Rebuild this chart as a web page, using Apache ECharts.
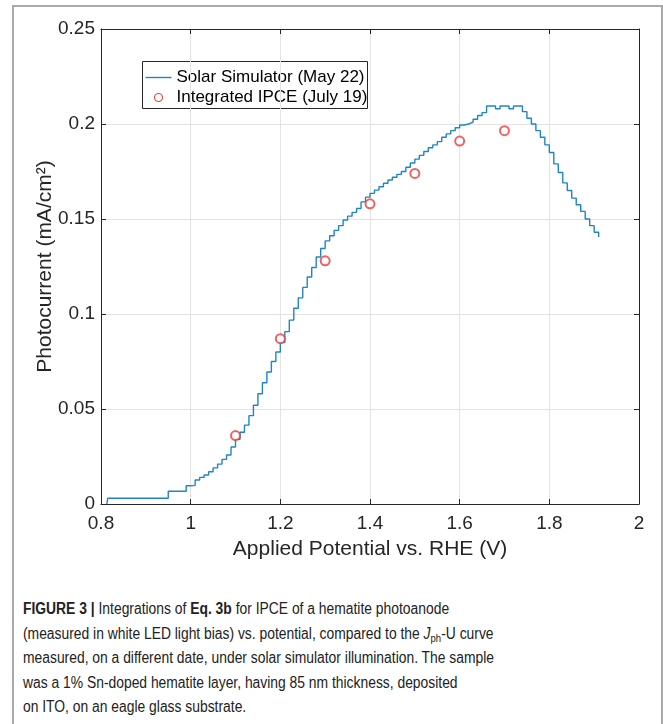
<!DOCTYPE html>
<html>
<head>
<meta charset="utf-8">
<script src="https://cdn.jsdelivr.net/npm/echarts@6/dist/echarts.min.js"></script>
<style>
html,body{margin:0;padding:0;background:#fff;width:663px;height:724px;overflow:hidden;}
#frame{position:absolute;left:12px;top:5px;width:647px;height:760px;border:2px solid #a9a9a9;border-bottom:none;}
#chart{position:absolute;left:0;top:0;width:663px;height:580px;}
#caption{position:absolute;left:23px;top:597px;width:700px;font-family:"Liberation Sans",Arial,sans-serif;font-size:16px;line-height:24.6px;color:#222;transform-origin:0 0;white-space:nowrap;}
#caption b{font-weight:bold;}
#caption sub{font-size:11px;vertical-align:-3px;line-height:0;}
</style>
</head>
<body>
<div id="frame"></div>
<div id="chart"></div>
<div id="caption"><b>FIGURE 3 |</b> Integrations of <b>Eq. 3b</b> for IPCE of a hematite photoanode<br>(measured in white LED light bias) vs. potential, compared to the <i>J</i><sub>ph</sub>-U curve<br><span id="l3">measured, on a different date, under solar simulator illumination. The sample</span><br>was a 1% Sn-doped hematite layer, having 85 nm thickness, deposited<br>on ITO, on an eagle glass substrate.</div>
<script>
// Solar simulator J-U curve (V vs RHE, mA/cm2)
const simV = [0.813,0.815,0.95,0.99,1.00,1.01,1.02,1.03,1.04,1.05,1.06,1.07,1.08,1.09,1.10,1.11,1.12,1.13,1.14,1.15,1.16,1.17,1.18,1.19,1.20,1.21,1.22,1.23,1.24,1.25,1.26,1.27,1.28,1.29,1.30,1.31,1.32,1.33,1.34,1.35,1.36,1.37,1.38,1.39,1.40,1.41,1.42,1.43,1.44,1.45,1.46,1.47,1.48,1.49,1.50,1.51,1.52,1.53,1.54,1.55,1.56,1.57,1.58,1.59,1.60,1.61,1.62,1.63,1.64,1.65,1.66,1.67,1.68,1.69,1.70,1.71,1.72,1.73,1.74,1.75,1.76,1.77,1.78,1.79,1.80,1.81,1.82,1.83,1.84,1.85,1.86,1.87,1.88,1.89,1.90,1.91];
const simJ = [0.000,0.0030,0.0067,0.0096,0.0098,0.0126,0.0140,0.0153,0.0170,0.0190,0.0210,0.0235,0.0258,0.0300,0.0340,0.0378,0.0415,0.0465,0.0520,0.0580,0.0638,0.0695,0.0750,0.0800,0.0850,0.0907,0.0968,0.1030,0.1085,0.1140,0.1195,0.1245,0.1300,0.1345,0.1385,0.1412,0.1440,0.1465,0.1495,0.1515,0.1535,0.1555,0.1590,0.1615,0.1635,0.1652,0.1670,0.1688,0.1705,0.1720,0.1735,0.1750,0.1772,0.1795,0.1815,0.1835,0.1855,0.1875,0.1890,0.1907,0.1930,0.1948,0.1965,0.1980,0.1995,0.2000,0.2010,0.2025,0.2045,0.2060,0.2095,0.2095,0.2080,0.2095,0.2095,0.2080,0.2095,0.2095,0.2065,0.2030,0.2000,0.1965,0.1930,0.1890,0.1850,0.1790,0.1745,0.1690,0.1650,0.1610,0.1575,0.1540,0.1500,0.1465,0.1430,0.1405];
// Integrated IPCE points
const ipceV = [1.1,1.2,1.3,1.4,1.5,1.6,1.7];
const ipceJ = [0.036,0.087,0.128,0.158,0.174,0.191,0.1965];
// Axis ticks
const xMin = 0.8, xMax = 2, xStep = 0.2;
const yMin = 0, yMax = 0.25, yStep = 0.05;
const names = ['Solar Simulator (May 22)','Integrated IPCE (July 19)'];

// squeeze caption to the condensed width of the original typeface
(function(){
  const w = document.getElementById('l3').getBoundingClientRect().width;
  document.getElementById('caption').style.transform = 'scaleX(' + (471 / w) + ')';
})();

const FONT = '"Liberation Sans", Arial, sans-serif';
const axisCol = '#262626';
const lineCol = '#1f85c8';
const dotCol = '#ee3b3b';
const chart = echarts.init(document.getElementById('chart'), null, {renderer:'canvas'});
const common = {
  axisLine:{show:true,onZero:false,lineStyle:{color:axisCol,width:1}},
  axisTick:{show:true,inside:true,length:5,lineStyle:{color:axisCol}},
};
const LX = 142, LY = 61;
chart.setOption({
  animation:false,
  backgroundColor:'transparent',
  grid:{left:101,top:29,width:538,height:475,containLabel:false},
  graphic:[{
    type:'group',left:LX,top:LY,z:100,
    children:[
      {type:'rect',shape:{x:0,y:0,width:225,height:47},style:{fill:'#fff',stroke:'#262626',lineWidth:1}},
      {type:'line',shape:{x1:3,y1:16,x2:29,y2:16},style:{stroke:lineCol,lineWidth:1.4}},
      {type:'circle',shape:{cx:16,cy:36,r:4},style:{fill:'#fff',stroke:dotCol,lineWidth:1.1}},
      {type:'text',x:34,y:16,style:{text:names[0],font:'17px '+FONT,fill:'#000',verticalAlign:'middle'}},
      {type:'text',x:34,y:36,style:{text:names[1],font:'17px '+FONT,fill:'#000',verticalAlign:'middle'}}
    ]
  }],
  xAxis:[
    Object.assign({type:'value',min:xMin,max:xMax,interval:xStep,position:'bottom',
      name:'Applied Potential vs. RHE (V)',nameLocation:'middle',nameGap:35,nameMoveOverlap:false,
      nameTextStyle:{fontFamily:FONT,fontSize:21,color:axisCol},
      axisLabel:{fontFamily:FONT,fontSize:19,color:axisCol,margin:10},
      splitLine:{show:true,lineStyle:{color:'#e3e3e3',width:1}}},common),
    Object.assign({type:'value',min:xMin,max:xMax,interval:xStep,position:'top',
      axisLabel:{show:false},splitLine:{show:false}},common)
  ],
  yAxis:[
    Object.assign({type:'value',min:yMin,max:yMax,interval:yStep,position:'left',
      name:'Photocurrent (mA/cm²)',nameLocation:'middle',nameGap:45,nameMoveOverlap:false,
      nameTextStyle:{fontFamily:FONT,fontSize:21,color:axisCol},
      axisLabel:{fontFamily:FONT,fontSize:19,color:axisCol,margin:6},
      splitLine:{show:true,lineStyle:{color:'#e3e3e3',width:1}}},common),
    Object.assign({type:'value',min:yMin,max:yMax,interval:yStep,position:'right',
      axisLabel:{show:false},splitLine:{show:false}},common)
  ],
  series:[
    {name:names[0],type:'line',step:'end',symbol:'none',
     lineStyle:{color:lineCol,width:1.4},itemStyle:{color:lineCol},
     data:simV.map((v,i)=>[v,simJ[i]]),z:3},
    {name:names[1],type:'scatter',symbol:'emptyCircle',symbolSize:9,
     itemStyle:{color:dotCol,borderWidth:1.1},
     data:ipceV.map((v,i)=>[v,ipceJ[i]]),z:4}
  ]
});
</script>
</body>
</html>
